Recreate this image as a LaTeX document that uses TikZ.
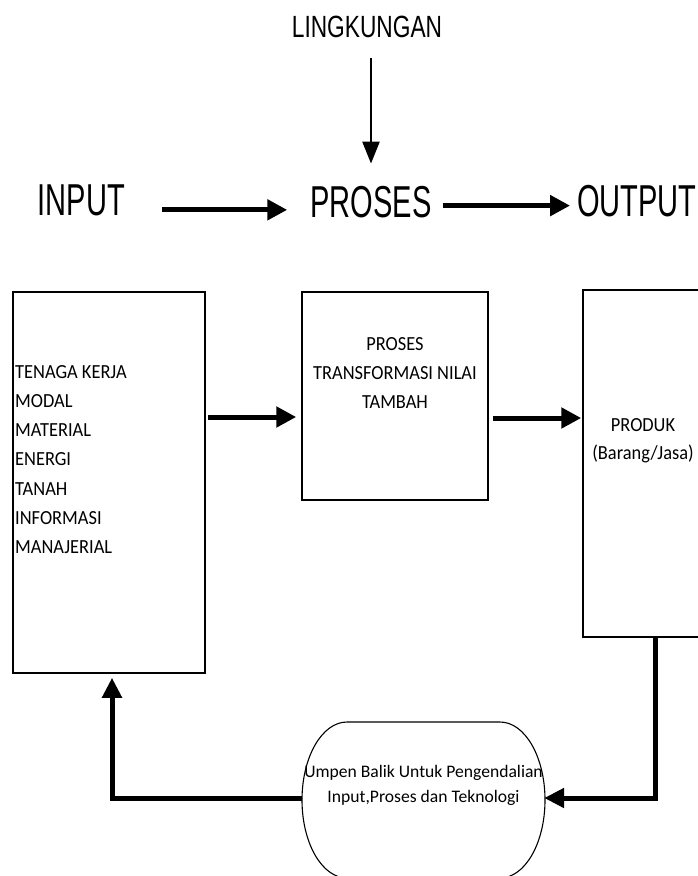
\documentclass[tikz,border=0pt]{standalone}
\usepackage{fontspec}
\usetikzlibrary{arrows.meta}
\newfontfamily\labfont[FakeStretch=0.65]{Liberation Sans}
\newfontfamily\lingfont[FakeStretch=0.74]{Liberation Sans}
\newfontfamily\boxfont[FakeStretch=0.92]{Carlito}
\newfontfamily\fbfont{Carlito}
\begin{document}
\begin{tikzpicture}[x=1pt,y=-1pt,
  toplabel/.style={inner sep=0pt, anchor=base, font=\labfont\fontsize{44.7}{50}\selectfont},
  linglabel/.style={inner sep=0pt, anchor=base, font=\lingfont\fontsize{30.7}{34}\selectfont},
  boxnode/.style={draw, line width=1.5pt, inner sep=0pt},
  boxtext/.style={inner sep=0pt, font=\boxfont\fontsize{20}{29.3}\selectfont},
  fbtext/.style={inner sep=0pt, align=center, font=\fbfont\fontsize{17.6}{25}\selectfont},
  bigarrow/.style={line width=5pt, -{Triangle[length=20pt,width=20pt]}},
  thinarrow/.style={line width=2.5pt, -{Triangle[length=22pt,width=17pt]}},
  fbarrow/.style={line width=5pt, -{Triangle[length=20pt,width=19pt]}}
]
\useasboundingbox (0,0) rectangle (698,876);
\clip (0,0) rectangle (698,876);
\fill[white] (0,0) rectangle (698,876);

% top labels
\node[linglabel] (ling) at (367,37) {LINGKUNGAN};
\node[toplabel] (inp) at (81.5,215) {INPUT};
\node[toplabel] (pro) at (371,217) {PROSES};
\node[toplabel] (out) at (637,216) {OUTPUT};

\draw[thinarrow, shorten <=20pt, shorten >=22pt] (ling.south -| pro.north) -- (pro.north);
\draw[bigarrow, shorten <=37pt, shorten >=23pt] ([yshift=-10pt]inp.east) -- ([yshift=-10pt]inp.east -| pro.west);
\draw[bigarrow, shorten <=11pt, shorten >=7pt] ([yshift=-4pt]pro.east) -- ([yshift=-4pt]pro.east -| out.west);

% boxes
\node[boxnode, minimum width=192pt, minimum height=381pt] (lbox) at (109,482.5) {};
\node[boxnode, minimum width=186pt, minimum height=208pt] (mbox) at (395,396) {};
\node[boxnode, minimum width=147pt, minimum height=347pt] (rbox) at (656.5,463.5) {};

\node[boxtext, align=left, anchor=west] (ltext) at (15,459.5)
  {TENAGA KERJA\\MODAL\\MATERIAL\\ENERGI\\TANAH\\INFORMASI\\MANAJERIAL};
\node[boxtext, align=center] (mtext) at (395,373)
  {PROSES\\TRANSFORMASI NILAI\\TAMBAH};
\node[boxtext, align=center, font=\boxfont\fontsize{20}{28}\selectfont] (rtext) at (643,441)
  {PRODUK\\(Barang/Jasa)};

\draw[bigarrow, shorten <=2pt, shorten >=5pt] ([yshift=65.5pt]lbox.east) -- ([yshift=65.5pt]lbox.east -| mbox.west);
\draw[bigarrow, shorten <=4pt, shorten >=1pt] ([yshift=-22pt]mbox.east) -- ([yshift=-22pt]mbox.east -| rbox.west);

% feedback shape
\node[minimum width=243pt, minimum height=156pt, inner sep=0pt] (fb) at (423.5,800) {};
\draw[line width=1.1pt] (347,722) .. controls (322,722) and (302,757) .. (302,800)
  .. controls (302,843) and (322,878) .. (347,878) -- (500,878)
  .. controls (525,878) and (545,843) .. (545,800)
  .. controls (545,757) and (525,722) .. (500,722) -- cycle;
\node[fbtext] (fbt) at (423.5,785) {Umpen Balik Untuk Pengendalian\\Input,Proses dan Teknologi};

\coordinate (fr) at (655,798);
\coordinate (fl) at (112,798);
\draw[fbarrow, shorten >=-1pt] (rbox.south -| fr) -- (fr) -- (fb.east |- fr);
\draw[fbarrow, shorten >=4pt] (fb.west |- fl) -- (fl) -- (lbox.south -| fl);
\end{tikzpicture}
\end{document}
